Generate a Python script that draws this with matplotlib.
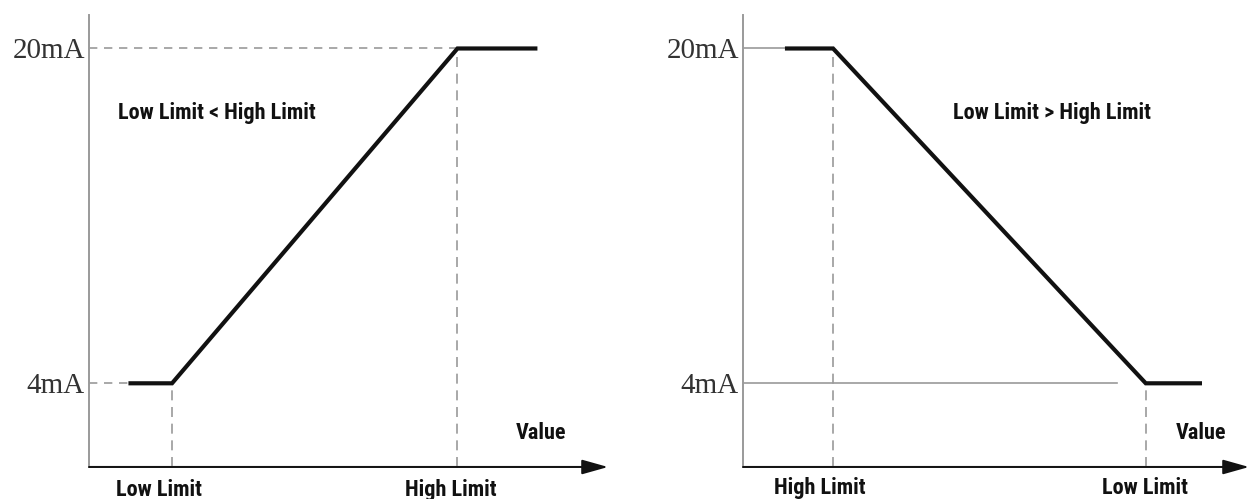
import matplotlib.pyplot as plt

# curve breakpoints (value axis in arbitrary units, output in mA)
left_x = [8, 16, 71, 86]
left_ma = [4, 4, 20, 20]
right_x = [8.7, 17.8, 79.6, 90.3]
right_ma = [20, 20, 4, 4]

ma_ticks = [4, 20]
ma_labels = ["4mA", "20mA"]

left_limits = [16, 71]
left_limit_names = ["Low Limit", "High Limit"]
right_limits = [17.8, 79.6]
right_limit_names = ["High Limit", "Low Limit"]

W, H = 1249, 499
fig = plt.figure(figsize=(W / 100, H / 100), dpi=100)

label_font = dict(family=["Roboto Condensed", "Barlow Semi Condensed", "DejaVu Sans"],
                  fontweight="bold", fontsize=16, color="#111111")
gray = "#9a9a9a"


def make_axes(x0, x1):
    ax = fig.add_axes([x0 / W, (H - 467) / H, (x1 - x0) / W, 452 / H])
    ax.set_xlim(0, 100)
    ax.set_ylim(0, 21.6)
    for s in ["top", "right", "bottom"]:
        ax.spines[s].set_visible(False)
    ax.spines["left"].set_color(gray)
    ax.spines["left"].set_linewidth(1.4)
    ax.set_xticks([])
    ax.set_yticks(ma_ticks)
    ax.set_yticklabels(ma_labels, family="Liberation Serif", fontsize=21, color="#333333")
    ax.tick_params(axis="y", length=0, pad=3)
    # x axis with arrow
    ax.annotate("", xy=(1.0, 0), xytext=(0, 0), xycoords="axes fraction",
                arrowprops=dict(arrowstyle="-|>,head_length=1.6,head_width=0.45",
                                color="#111111", lw=1.4, shrinkA=0, shrinkB=0),
                annotation_clip=False)
    ax.axhline(0, xmax=0.96, color=gray, lw=1.6)
    return ax


# left panel: Low Limit < High Limit
ax1 = make_axes(89, 608)
ax1.plot([0, left_x[2]], [20, 20], ls=(0, (5, 4)), color=gray, lw=1.2)
ax1.plot([0, left_x[0]], [4, 4], ls=(0, (5, 4)), color=gray, lw=1.2)
ax1.plot([left_limits[0]] * 2, [0, 4], ls=(0, (6, 4)), color=gray, lw=1.2)
ax1.plot([left_limits[1]] * 2, [0, 20], ls=(0, (6, 4)), color=gray, lw=1.2)
ax1.plot(left_x, left_ma, color="#111111", lw=3, solid_joinstyle="miter")
ax1.text(5.5, 16.9, "Low Limit < High Limit", va="center", ha="left", **label_font)
ax1.text(82.3, 1.62, "Value", va="center", ha="left", **label_font)
for xv, name, dx in zip(left_limits, left_limit_names, [-2.6, -1.3]):
    ax1.text(xv + dx, -0.55, name, ha="center", va="top", clip_on=False, **label_font)

# right panel: Low Limit > High Limit
ax2 = make_axes(743, 1249)
ax2.plot([0, right_x[0]], [20, 20], color=gray, lw=1.2)
ax2.plot([0, 74], [4, 4], color=gray, lw=1.2)
ax2.plot([right_limits[0]] * 2, [0, 20], ls=(0, (6, 4)), color=gray, lw=1.2)
ax2.plot([right_limits[1]] * 2, [0, 4], ls=(0, (6, 4)), color=gray, lw=1.2)
ax2.plot(right_x, right_ma, color="#111111", lw=3, solid_joinstyle="miter")
ax2.text(41.5, 16.9, "Low Limit > High Limit", va="center", ha="left", **label_font)
ax2.text(85.6, 1.62, "Value", va="center", ha="left", **label_font)
for xv, name, dx in zip(right_limits, right_limit_names, [-2.6, -0.1]):
    ax2.text(xv + dx, -0.5, name, ha="center", va="top", clip_on=False, **label_font)

fig.savefig("out.png", dpi=100)
